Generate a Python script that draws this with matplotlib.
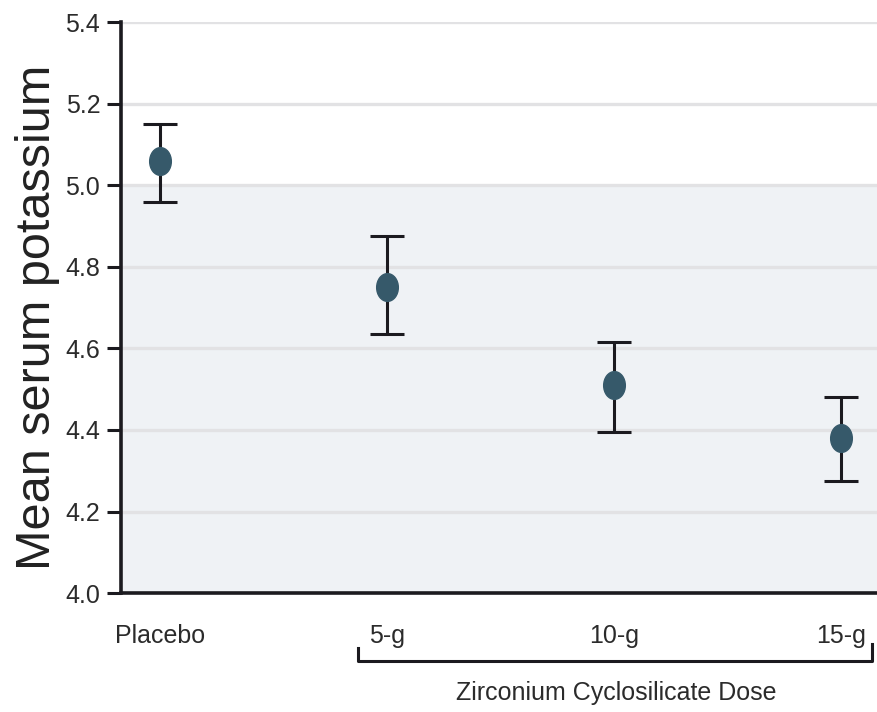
import matplotlib.pyplot as plt
import matplotlib.transforms as mtransforms
from matplotlib.path import Path
import numpy as np

plt.rcParams['font.family'] = ['Liberation Sans Narrow', 'Liberation Sans', 'DejaVu Sans']

groups = ["Placebo", "5-g", "10-g", "15-g"]
means = [5.06, 4.75, 4.51, 4.38]
upper = [5.15, 4.875, 4.615, 4.48]
lower = [4.96, 4.635, 4.395, 4.275]
yticks = [4.0, 4.2, 4.4, 4.6, 4.8, 5.0, 5.2, 5.4]

fig = plt.figure(figsize=(8.77, 7.12), dpi=100)
ax = fig.add_axes([0.138, 0.167, 0.862, 0.802])

x = np.arange(len(groups))
m = np.array(means)
err = [m - np.array(lower), np.array(upper) - m]

# shaded normal range
ax.axhspan(4.0, 5.0, color="#eff2f5", zorder=0, lw=0)
for yv in yticks[1:]:
    ax.axhline(yv, color="#e2e2e4", lw=2.4, zorder=1)

# slightly tall ellipse marker
ell = Path.unit_circle().transformed(mtransforms.Affine2D().scale(0.78, 1.0))
ax.errorbar(x, m, yerr=err, fmt="none", ecolor="#1b1a1f", elinewidth=2.2,
            capsize=12, capthick=2.2, zorder=3)
ax.plot(x, m, linestyle="none", marker=ell, markersize=20,
        color="#36596a", zorder=4)

ax.set_xlim(-0.17, 3.16)
ax.set_ylim(4.0, 5.4)
ax.set_yticks(yticks)
ax.set_yticklabels([f"{v:.1f}" for v in yticks], fontsize=18, color="#2b2b2b")
ax.set_xticks(x)
ax.set_xticklabels(groups, fontsize=18, color="#2b2b2b")
ax.tick_params(axis="x", length=0, pad=22)
ax.tick_params(axis="y", length=10, width=2.2, color="#1b1a1f", pad=5)

for s in ["top", "right"]:
    ax.spines[s].set_visible(False)
for s in ["left", "bottom"]:
    ax.spines[s].set_linewidth(2.6)
    ax.spines[s].set_color("#1b1a1f")
    ax.spines[s].set_zorder(5)

ax.text(-0.11, 0.483, "Mean serum potassium", transform=ax.transAxes,
        rotation=90, ha="center", va="center", fontsize=35,
        family=["Liberation Sans", "DejaVu Sans"], color="#222222")

# bracket under the dose groups
tr = mtransforms.blended_transform_factory(ax.transData, ax.transAxes)
ax.plot([0.872, 0.872, 3.14, 3.14], [-0.096, -0.119, -0.119, -0.09],
        transform=tr, clip_on=False, color="#1b1a1f", lw=2.2)
ax.text(2.013, -0.175, "Zirconium Cyclosilicate Dose", transform=tr,
        ha="center", va="center", fontsize=18, color="#2b2b2b")

fig.savefig("out.png", dpi=100)
